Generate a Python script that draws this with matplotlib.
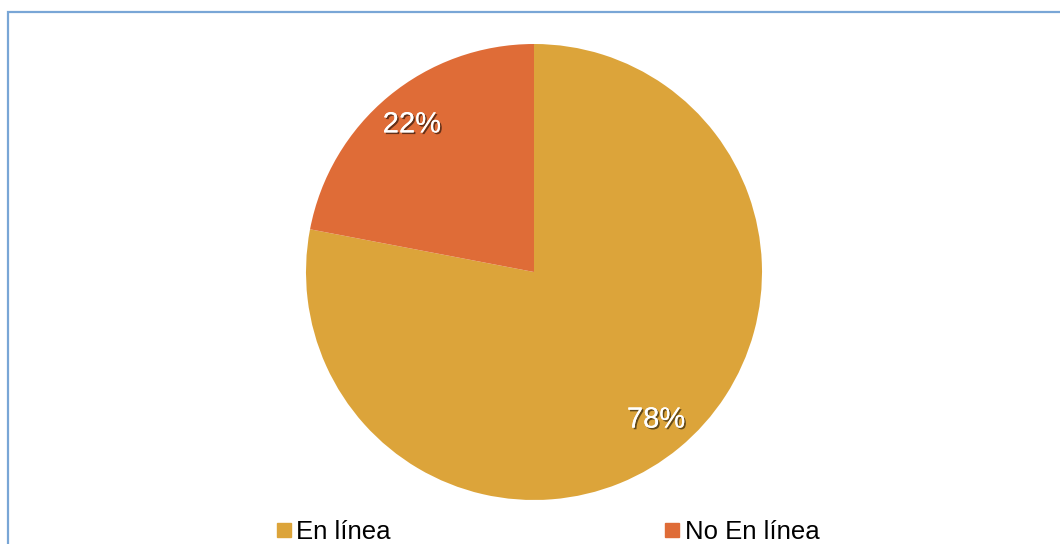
import matplotlib.pyplot as plt
import matplotlib.patheffects as pe
from matplotlib.lines import Line2D
from matplotlib.patches import Rectangle

plt.rcParams["font.family"] = ["Liberation Sans", "DejaVu Sans"]

# Share of responses
labels = ["En línea", "No En línea"]
values = [78, 22]
colors = ["#DCA43A", "#DF6C37"]

fig = plt.figure(figsize=(10.6, 5.44), dpi=100)
ax = fig.add_axes([0, 0, 1, 1])

wedges, texts, autotexts = ax.pie(
    values,
    colors=colors,
    startangle=90,
    counterclock=False,
    center=(534, 272),
    radius=228,
    autopct="%1.0f%%",
    pctdistance=0.84,
    textprops={"color": "white", "fontsize": 21},
)

# pie() resets the view, so pin it to pixel units afterwards
ax.set_xlim(0, 1060)
ax.set_ylim(0, 544)
ax.set_aspect("equal")
ax.axis("off")

# Outer chart frame (runs off the right and bottom edges)
ax.add_patch(Rectangle((7.5, -20), 1100, 552.5, fill=False,
                       edgecolor="#79A6D6", linewidth=1.6))

shadow = [pe.withSimplePatchShadow(offset=(1.2, -1.2), shadow_rgbFace="black", alpha=0.55),
          pe.Normal()]
for t in autotexts:
    t.set_path_effects(shadow)

handles = [Line2D([], [], marker="s", linestyle="none", markersize=9.5,
                  markerfacecolor=c, markeredgecolor=c) for c in colors]
fig.legend(handles, labels, loc="lower left", bbox_to_anchor=(263 / 1060, -13 / 544),
           ncol=2, frameon=False, fontsize=18.5, handlelength=0.6,
           handletextpad=0.2, columnspacing=10.65, borderpad=0)

plt.savefig("out.png", dpi=100)
